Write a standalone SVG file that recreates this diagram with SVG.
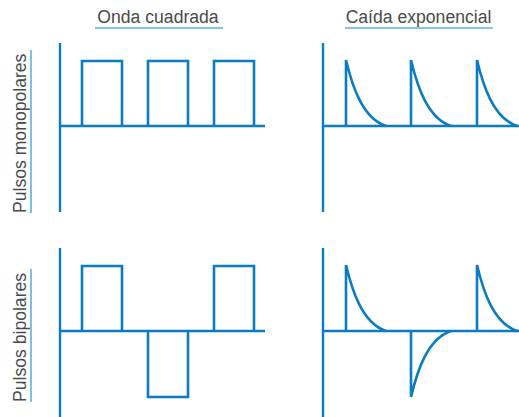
<svg xmlns="http://www.w3.org/2000/svg" width="519" height="417" viewBox="0 0 519 417">
  <style>
    .title { font-family: "Liberation Sans", Arial, sans-serif; font-size: 17.6px; fill: #4a4a4a; }
    .rule { stroke: #5eb0e0; stroke-width: 1.6; fill: none; }
    .axis { stroke: #0a7cc2; stroke-width: 2.4; fill: none; }
    .wave { stroke: #0a7cc2; stroke-width: 2.6; fill: none; stroke-linejoin: miter; }
  </style>
  <rect width="519" height="417" fill="#ffffff"/>

  <!-- column headings -->
  <g id="heading-square">
    <text class="title" x="158" y="23" text-anchor="middle">Onda cuadrada</text>
    <line class="rule" x1="95" y1="28" x2="223" y2="28"/>
  </g>
  <g id="heading-exp">
    <text class="title" x="418.5" y="23" text-anchor="middle">Caída exponencial</text>
    <line class="rule" x1="345" y1="28" x2="493" y2="28"/>
  </g>

  <!-- row headings -->
  <g id="row-monopolar">
    <text class="title" transform="translate(26 213) rotate(-90)">Pulsos monopolares</text>
    <line class="rule" x1="31" y1="50" x2="31" y2="213"/>
  </g>
  <g id="row-bipolar">
    <text class="title" transform="translate(26 402) rotate(-90)">Pulsos bipolares</text>
    <line class="rule" x1="31" y1="269" x2="31" y2="402"/>
  </g>

  <!-- monopolar square wave -->
  <g id="plot-mono-square">
    <line class="axis" x1="60" y1="43" x2="60" y2="212"/>
    <line class="axis" x1="60" y1="126" x2="265" y2="126"/>
    <path class="wave" d="M82,126 V61 H122 V126 M148,126 V61 H188 V126 M214,126 V61 H254 V126"/>
  </g>

  <!-- monopolar exponential decay -->
  <g id="plot-mono-exp">
    <line class="axis" x1="323" y1="43" x2="323" y2="212"/>
    <line class="axis" x1="323" y1="126" x2="519" y2="126"/>
    <path class="wave" d="M346,126 V60 C352,85 362,118 386,126 M411,126 V60 C417,85 427,118 451,126 M477,126 V60 C483,85 493,118 517,126"/>
  </g>

  <!-- bipolar square wave -->
  <g id="plot-bi-square">
    <line class="axis" x1="60" y1="248" x2="60" y2="417"/>
    <line class="axis" x1="60" y1="331" x2="265" y2="331"/>
    <path class="wave" d="M82,331 V266 H122 V331 M148,331 V397 H188 V331 M214,331 V266 H254 V331"/>
  </g>

  <!-- bipolar exponential decay -->
  <g id="plot-bi-exp">
    <line class="axis" x1="323" y1="248" x2="323" y2="417"/>
    <line class="axis" x1="323" y1="331" x2="519" y2="331"/>
    <path class="wave" d="M346,331 V265 C352,290 362,323 386,331 M411,331 V397 C417,372 427,339 451,331 M477,331 V265 C483,290 493,323 517,331"/>
  </g>
</svg>
